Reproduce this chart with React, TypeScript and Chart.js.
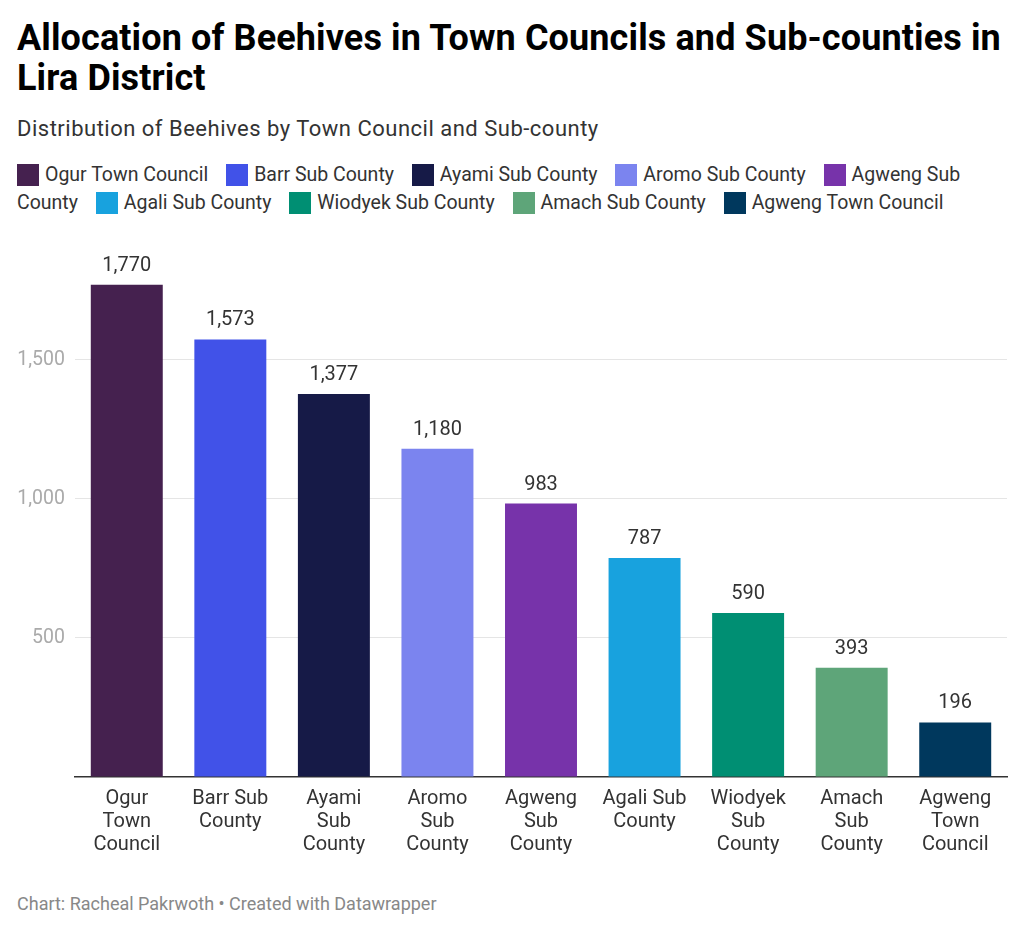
import React, { useEffect, useRef } from "react";
import { Chart, registerables } from "chart.js";

Chart.register(...registerables);

const categories = [
  ["Ogur", "Town", "Council"],
  ["Barr Sub", "County"],
  ["Ayami", "Sub", "County"],
  ["Aromo", "Sub", "County"],
  ["Agweng", "Sub", "County"],
  ["Agali Sub", "County"],
  ["Wiodyek", "Sub", "County"],
  ["Amach", "Sub", "County"],
  ["Agweng", "Town", "Council"],
];
const legendNames = [
  "Ogur Town Council",
  "Barr Sub County",
  "Ayami Sub County",
  "Aromo Sub County",
  "Agweng Sub County",
  "Agali Sub County",
  "Wiodyek Sub County",
  "Amach Sub County",
  "Agweng Town Council",
];
const beehives = [1770, 1573, 1377, 1180, 983, 787, 590, 393, 196];
const colors = ["#45214f", "#4152e8", "#161a47", "#7b84ef", "#7733aa", "#18a2de", "#008f73", "#5ea579", "#00385d"];
const yTicks = [500, 1000, 1500];

const FONT = "Roboto, 'Noto Sans', sans-serif";

// draws the value above each bar
const valueLabels = {
  id: "valueLabels",
  afterDatasetsDraw(chart) {
    const ctx = chart.ctx;
    const meta = chart.getDatasetMeta(0);
    ctx.save();
    ctx.font = `20px ${FONT}`;
    ctx.fillStyle = "#333333";
    ctx.textAlign = "center";
    ctx.textBaseline = "alphabetic";
    meta.data.forEach((bar, i) => {
      ctx.fillText(beehives[i].toLocaleString("en-US"), bar.x, bar.y - 14);
    });
    ctx.restore();
  },
};

const BeehiveChart = () => {
  const chartRef = useRef(null);

  useEffect(() => {
    let chartInstance;
    if (chartRef.current) {
      const ctx = chartRef.current.getContext("2d");
      chartInstance = new Chart(ctx, {
        type: "bar",
        data: {
          labels: categories,
          datasets: [
            {
              data: beehives,
              backgroundColor: colors,
              barPercentage: 0.695,
              categoryPercentage: 1,
            },
          ],
        },
        options: {
          animation: false,
          responsive: false,
          layout: { padding: { top: 18, right: 17 } },
          plugins: { legend: { display: false }, tooltip: { enabled: false } },
          scales: {
            x: {
              afterFit: (axis) => {
                axis.height = 92;
              },
              grid: { display: false, drawTicks: false },
              border: { display: true, color: "#333333", width: 1.5 },
              ticks: {
                padding: 10,
                color: "#333333",
                maxRotation: 0,
                autoSkip: false,
                font: { family: FONT, size: 20, lineHeight: 1.15 },
              },
            },
            y: {
              min: 0,
              max: 2000,
              afterFit: (axis) => {
                axis.width = 75;
              },
              afterBuildTicks: (axis) => {
                axis.ticks = [0, ...yTicks, 2000].map((v) => ({ value: v }));
              },
              border: { display: false },
              grid: {
                drawTicks: false,
                color: (c) => (yTicks.includes(c.tick.value) ? "#e5e5e5" : "rgba(0,0,0,0)"),
                lineWidth: 1,
              },
              ticks: {
                padding: 10,
                color: "#aaaaaa",
                font: { family: FONT, size: 19.5 },
                callback: (v) => (yTicks.includes(v) ? v.toLocaleString("en-US") : ""),
              },
            },
          },
        },
        plugins: [valueLabels],
      });
    }
    return () => {
      if (chartInstance) {
        chartInstance.destroy();
      }
    };
  }, []);

  return <canvas ref={chartRef} width={1024} height={670} style={{ width: 1024, height: 670 }} />;
};

export default function App() {
  return (
    <div style={{ position: "absolute", top: 0, left: 0, width: 1024, height: 933, background: "#fff", fontFamily: FONT, overflow: "hidden" }}>
      <div style={{ position: "absolute", left: 17, top: 18, width: 1000, fontSize: 36, fontWeight: 700, lineHeight: "40px", letterSpacing: 0.12, color: "#000" }}>
        Allocation of Beehives in Town Councils and Sub-counties in Lira District
      </div>
      <div style={{ position: "absolute", left: 17, top: 116, fontSize: 22, lineHeight: "26px", letterSpacing: 0.5, color: "#333" }}>
        Distribution of Beehives by Town Council and Sub-county
      </div>
      <div style={{ position: "absolute", left: 17, top: 161, width: 990, fontSize: 19.5, lineHeight: "28px", color: "#333" }}>
        {legendNames.map((name, i) => (
          <span key={name}>
            <span style={{ display: "inline-block", width: 22, height: 22, background: colors[i], verticalAlign: -5, marginRight: 6 }} />
            {name}
            {i < legendNames.length - 1 ? <span style={{ marginRight: 13 }}> </span> : null}
          </span>
        ))}
      </div>
      <div style={{ position: "absolute", left: 0, top: 199 }}>
        <BeehiveChart />
      </div>
      <div style={{ position: "absolute", left: 17, top: 894, fontSize: 18, lineHeight: "20px", color: "#888" }}>
        Chart: Racheal Pakrwoth • Created with Datawrapper
      </div>
    </div>
  );
}
